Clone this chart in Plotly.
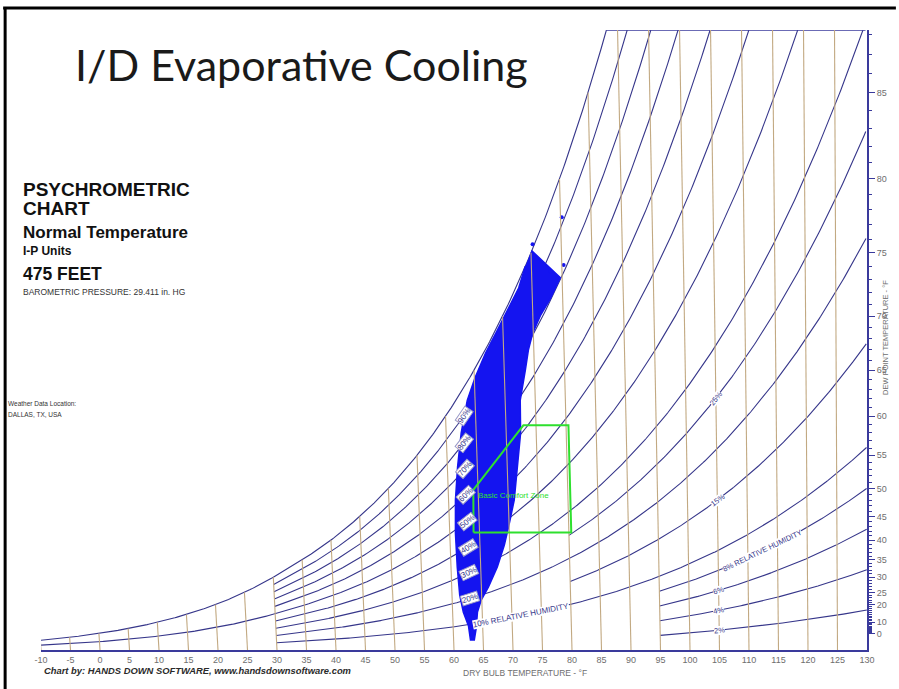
import math
import numpy as np
import plotly.graph_objects as go

# ---------------- data ----------------
BARO_INHG = 29.411
DB_TICKS = list(range(-10, 131, 5))
DB_LINES = list(range(-10, 130, 5))
DP_LABELS = [0, 10, 20, 25, 30, 35, 40, 45, 50, 55, 60, 65, 70, 75, 80, 85]
DP_MINOR = list(range(0, 89))
W_TOP = 0.0298                     # humidity ratio at top edge of chart
RH_FULL = [50, 100]                # curves starting at -10 F
RH_MAIN = [10, 20, 30, 40, 60, 70, 80, 90]   # curves starting at 30 F
RH_MID = [15, 25]                  # curves starting at 80 F
RH_LOW = [2, 4, 6, 8]              # curves starting at 95 F
LEFT_LABEL_RH = [90, 80, 70, 60, 50, 40, 30, 20]
LEFT_LABEL_DB = 63
RIGHT_LABEL_RH = [25, 15, 6, 4, 2]
RIGHT_LABEL_DB = 105

# weather-data cloud outline (dry bulb F, humidity ratio lb/lb)
CLOUD_DB = [75.1, 77.5, 79.7, 78.0, 76.3, 74.9, 74.1, 73.5, 72.5, 72.4, 71.7, 71.0,
            69.9, 69.1, 67.8, 66.2, 64.9, 64.2, 63.9, 63.5, 62.85, 62.6, 61.8, 61.3,
            61.05, 60.95, 61.15, 61.7, 62.5, 63.7, 65.1, 67.0, 68.9, 70.7, 72.8, 74.0]
CLOUD_W = [0.0192, 0.0185, 0.0179, 0.0169, 0.0161, 0.01523, 0.01441, 0.01345, 0.0120,
           0.01043, 0.00879, 0.00721, 0.00591, 0.00505, 0.00399, 0.00303, 0.0024, 0.00183,
           0.00106, 0.00048, 0.00048, 0.00115, 0.00183, 0.00264, 0.00399, 0.00563, 0.00721,
           0.00879, 0.01043, 0.0120, 0.01307, 0.01427, 0.01528, 0.01624, 0.0174, 0.01845]
OUTLIER_DB = [80.2, 78.1, 80.3, 75.3, 87.9]
OUTLIER_W = [0.0208, 0.0182, 0.0185, 0.0195, 0.0299]

COMFORT_DB = [64.0, 80.4, 80.4, 72.9, 64.2, 64.0]
COMFORT_W = [0.00565, 0.00565, 0.0108, 0.0108, 0.0077, 0.00565]

# ---------------- psychrometrics / chart scale ----------------
P_PSIA = BARO_INHG * 0.491154
SKEW_K = 0.0507 / W_TOP  # slight fan of dry-bulb lines toward the top
PX_PER_F = 829 / 140.0
PX_PER_W = 620 / W_TOP


def pws(t):
    tr = t + 459.67
    if t < 32:
        return math.exp(-1.0214165e4 / tr - 4.8932428 - 5.3765794e-3 * tr + 1.9202377e-7 * tr ** 2
                        + 3.5575832e-10 * tr ** 3 - 9.0344688e-14 * tr ** 4 + 4.1635019 * math.log(tr))
    return math.exp(-1.0440397e4 / tr - 11.29465 - 2.7022355e-2 * tr + 1.289036e-5 * tr ** 2
                    - 2.4780681e-9 * tr ** 3 + 6.5459673 * math.log(tr))


def w_rh(t, rh):
    pw = rh / 100.0 * pws(t)
    return 0.622 * pw / (P_PSIA - pw)


def skew(t, w):
    return t - SKEW_K * (135 - t) * w


def t_at_top(rh):
    lo, hi = -10.0, 200.0
    for _ in range(60):
        mid = (lo + hi) / 2
        if w_rh(mid, rh) > W_TOP:
            hi = mid
        else:
            lo = mid
    return lo


def rh_curve(rh, t0):
    tend = min(130.0, t_at_top(rh))
    ts = list(np.arange(t0, tend, 0.25)) + [tend]
    xs = [skew(t, w_rh(t, rh)) for t in ts]
    ys = [w_rh(t, rh) for t in ts]
    return xs, ys


def w_dp(dp):
    p = pws(dp)
    return 0.622 * p / (P_PSIA - p)


def angle_on(t, rh):
    d = 0.5
    w1, w2 = w_rh(t - d, rh), w_rh(t + d, rh)
    dx = (skew(t + d, w2) - skew(t - d, w1)) * PX_PER_F
    dy = (w2 - w1) * PX_PER_W
    return -math.degrees(math.atan2(dy, dx))


NAVY = "#36368a"
TAN = "#c2a982"
AXIS = "#3a3a9c"
GRAY = "#6e6e6e"
FONT = "Liberation Sans"

fig = go.Figure()

# RH curves
cx, cy = [], []
for group, t0 in ((RH_FULL, -10), (RH_MAIN, 30), (RH_MID, 80), (RH_LOW, 95)):
    for rh in group:
        xs, ys = rh_curve(rh, t0)
        cx += xs + [None]
        cy += ys + [None]
fig.add_trace(go.Scatter(x=cx, y=cy, mode="lines", line=dict(color=NAVY, width=1.1),
                         hoverinfo="skip", showlegend=False))

# top boundary
tsat_top = t_at_top(100)
fig.add_trace(go.Scatter(x=[skew(tsat_top, W_TOP), skew(130, W_TOP)], y=[W_TOP, W_TOP], mode="lines",
                         line=dict(color=AXIS, width=1.3), hoverinfo="skip", showlegend=False))

# weather data cloud
fig.add_trace(go.Scatter(x=[skew(t, w) for t, w in zip(CLOUD_DB, CLOUD_W)], y=CLOUD_W, mode="lines",
                         fill="toself", fillcolor="#1414f0", line=dict(color="#1414f0", width=1.5),
                         hoverinfo="skip", showlegend=False))
fig.add_trace(go.Scatter(x=[skew(t, w) for t, w in zip(OUTLIER_DB, OUTLIER_W)], y=OUTLIER_W, mode="markers",
                         marker=dict(color="#1414f0", size=4), hoverinfo="skip", showlegend=False,
                         cliponaxis=False))

# dry bulb lines
vx, vy = [], []
for t in DB_LINES:
    we = min(w_rh(t, 100), W_TOP)
    vx += [skew(t, 0), skew(t, we), None]
    vy += [0, we, None]
fig.add_trace(go.Scatter(x=vx, y=vy, mode="lines", line=dict(color=TAN, width=1.1),
                         hoverinfo="skip", showlegend=False))

# comfort zone
fig.add_trace(go.Scatter(x=[skew(t, w) for t, w in zip(COMFORT_DB, COMFORT_W)], y=COMFORT_W, mode="lines",
                         line=dict(color="#2ee02e", width=2), hoverinfo="skip", showlegend=False))

# dew point axis (right)
fig.add_trace(go.Scatter(x=[130], y=[0], yaxis="y2", mode="markers", marker=dict(opacity=0),
                         hoverinfo="skip", showlegend=False))

ann = []


def lbl(t, rh, text, box=True, size=8):
    w = w_rh(t, rh)
    ann.append(dict(x=skew(t, w), y=w, xref="x", yref="y", text=text, showarrow=False,
                    textangle=angle_on(t, rh), font=dict(family=FONT, size=size, color=NAVY),
                    bgcolor="white", bordercolor="#9a9ac8" if box else "rgba(0,0,0,0)",
                    borderwidth=1 if box else 0, borderpad=0))


for rh in LEFT_LABEL_RH:
    lbl(LEFT_LABEL_DB, rh, f"{rh}%")
lbl(71.5, 10, "10% RELATIVE HUMIDITY", box=False)
for rh in RIGHT_LABEL_RH:
    lbl(RIGHT_LABEL_DB, rh, f"{rh}%", box=False, size=7.5)
lbl(112.5, 8, "8% RELATIVE HUMIDITY", box=False, size=7.5)

ann.append(dict(x=skew(70.9, 0.00745), y=0.00745, xref="x", yref="y", text="Basic Comfort Zone",
                showarrow=False, font=dict(family=FONT, size=8, color="#2ee02e")))


def px(xp):
    return (xp - 41) / 829.0


def py(yp):
    return (650 - yp) / 620.0


def txt(x, y, text, size, color="#111111", family=FONT, anchor="left", angle=0):
    ann.append(dict(x=px(x), y=py(y), xref="paper", yref="paper", text=text, showarrow=False,
                    xanchor=anchor, yanchor="middle", textangle=angle,
                    font=dict(family=family, size=size, color=color)))


txt(302, 65, "I/D Evaporative Cooling", 43, color="#1a1a1a", family="Lato", anchor="center")
txt(21, 189, "<b>PSYCHROMETRIC</b>", 19)
txt(21, 208, "<b>CHART</b>", 19)
txt(21, 232, "<b>Normal Temperature</b>", 17)
txt(21, 251, "<b>I-P Units</b>", 12)
txt(21, 274, "<b>475 FEET</b>", 17.5)
txt(21, 292, "BAROMETRIC PRESSURE: 29.411 in. HG", 8.5, color="#333333")
txt(6, 403, "Weather Data Location:", 6.5, color="#333333")
txt(6, 414, "DALLAS, TX, USA", 6.5, color="#333333")
txt(42, 670, "<b><i>Chart by: HANDS DOWN SOFTWARE, www.handsdownsoftware.com</i></b>", 9.4, color="#2a2a2a")
txt(463, 673, "DRY BULB TEMPERATURE - °F", 8.5, color=GRAY)
txt(888, 337, "DEW POINT TEMPERATURE - °F", 7.5, color=GRAY, anchor="center", angle=-90)

shapes = [
    dict(type="line", xref="paper", yref="paper", x0=px(3), x1=px(899), y0=py(8), y1=py(8),
         line=dict(color="black", width=3)),
    dict(type="line", xref="paper", yref="paper", x0=px(5), x1=px(5), y0=py(8), y1=py(689),
         line=dict(color="black", width=3)),
]

fig.update_layout(
    width=899, height=689, margin=dict(l=41, r=29, t=30, b=39),
    paper_bgcolor="white", plot_bgcolor="white",
    xaxis=dict(range=[-10, 130], tickvals=DB_TICKS, ticktext=[str(v) for v in DB_TICKS],
               showgrid=False, zeroline=False, showline=True, linecolor=AXIS, linewidth=2,
               ticks="", tickfont=dict(family=FONT, size=9, color=GRAY)),
    yaxis=dict(range=[0, W_TOP], visible=False, showgrid=False, zeroline=False),
    yaxis2=dict(range=[0, W_TOP], overlaying="y", side="right", anchor="x",
                tickvals=[w_dp(d) for d in DP_LABELS], ticktext=[str(d) for d in DP_LABELS],
                showgrid=False, zeroline=False, showline=True, linecolor=AXIS, linewidth=2,
                ticks="outside", ticklen=6, tickcolor=AXIS, tickwidth=1,
                minor=dict(tickmode="array", tickvals=[w_dp(d) for d in DP_MINOR],
                           ticks="outside", ticklen=3, tickcolor=AXIS),
                tickfont=dict(family=FONT, size=9, color=GRAY)),
    annotations=ann, shapes=shapes, showlegend=False,
)

fig.write_html("out.html")
